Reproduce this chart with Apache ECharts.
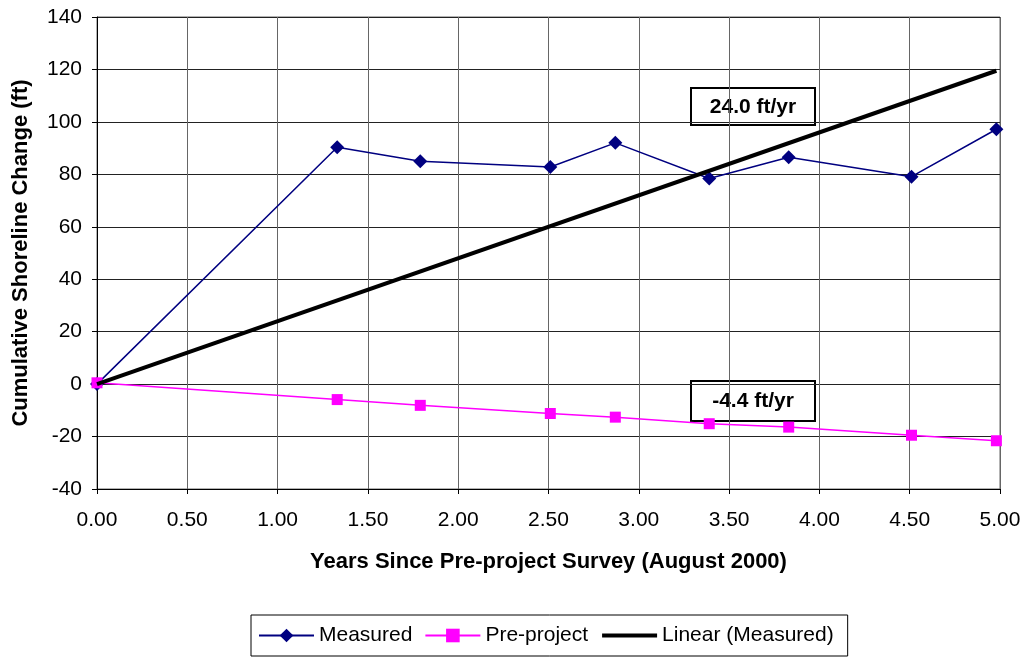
<!DOCTYPE html>
<html>
<head>
<meta charset="utf-8">
<script src="https://cdn.jsdelivr.net/npm/echarts@6/dist/echarts.min.js"></script>
<style>
html,body{margin:0;padding:0;background:#fff;}
#chart{width:1027px;height:658px;}
</style>
</head>
<body>
<div id="chart"></div>
<script>
// Data
var years = [0, 1.33, 1.79, 2.51, 2.87, 3.39, 3.83, 4.51, 4.98];
var measured = [0, 90.3, 85.0, 82.8, 92.0, 78.4, 86.5, 79.1, 97.2];
var preProject = [0.5, -5.9, -8.1, -11.2, -12.6, -15.1, -16.4, -19.5, -21.6];
var trendYears = [0, 4.98];
var trendValues = [0, 119.5];
var xTicks = [0, 0.5, 1, 1.5, 2, 2.5, 3, 3.5, 4, 4.5, 5];
var yTicks = [-40, -20, 0, 20, 40, 60, 80, 100, 120, 140];
var seriesNames = ['Measured', 'Pre-project', 'Linear (Measured)'];
var annotations = ['24.0 ft/yr', '-4.4 ft/yr'];

function pairs(xs, ys) { return xs.map(function (x, i) { return [x, ys[i]]; }); }

var FONT = 'Liberation Sans, Arial, sans-serif';
var chart = echarts.init(document.getElementById('chart'));
chart.setOption({
  animation: false,
  backgroundColor: '#fff',
  textStyle: { fontFamily: FONT, color: '#000' },
  grid: { left: 97, right: 27, top: 17, bottom: 169, show: true, borderColor: '#666', borderWidth: 1 },
  xAxis: {
    type: 'value', min: xTicks[0], max: xTicks[xTicks.length - 1], interval: 0.5,
    name: 'Years Since Pre-project Survey (August 2000)',
    nameLocation: 'middle', nameGap: 62,
    nameTextStyle: { fontFamily: FONT, fontSize: 22, fontWeight: 'bold', color: '#000' },
    axisLine: { onZero: false, lineStyle: { color: '#000', width: 1 } },
    axisTick: { show: true, inside: false, length: 5, lineStyle: { color: '#000' } },
    axisLabel: { fontFamily: FONT, fontSize: 21, color: '#000', margin: 21,
      formatter: function (v) { return v.toFixed(2); } },
    splitLine: { show: true, lineStyle: { color: '#666', width: 1 } }
  },
  yAxis: {
    type: 'value', min: yTicks[0], max: yTicks[yTicks.length - 1], interval: 20,
    name: 'Cumulative Shoreline Change (ft)',
    nameLocation: 'middle', nameGap: 65,
    nameTextStyle: { fontFamily: FONT, fontSize: 22, fontWeight: 'bold', color: '#000' },
    axisLine: { show: true, onZero: false, lineStyle: { color: '#000', width: 1 } },
    axisTick: { show: true, inside: false, length: 5, lineStyle: { color: '#000' } },
    axisLabel: { fontFamily: FONT, fontSize: 21, color: '#000', margin: 15 },
    splitLine: { show: true, lineStyle: { color: '#222', width: 1 } }
  },
  legend: {
    left: 251, top: 615,
    padding: [10, 14, 10, 7],
    borderColor: '#000', borderWidth: 1,
    itemWidth: 55, itemHeight: 17, itemGap: 12,
    textStyle: { fontFamily: FONT, fontSize: 21, color: '#000' },
    data: [
      { name: seriesNames[0] },
      { name: seriesNames[1], itemStyle: { borderWidth: 0 } },
      { name: seriesNames[2], itemStyle: { opacity: 0 }, lineStyle: { width: 4, color: '#000' } }
    ]
  },
  series: [
    {
      name: seriesNames[0], type: 'line', data: pairs(years, measured),
      symbol: 'diamond', symbolSize: 14, z: 3,
      lineStyle: { color: '#000080', width: 1.5 },
      itemStyle: { color: '#000080' }
    },
    {
      name: seriesNames[1], type: 'line', data: pairs(years, preProject),
      symbol: 'rect', symbolSize: 11, z: 4,
      lineStyle: { color: '#FF00FF', width: 1.5 },
      itemStyle: { color: '#FF00FF' }
    },
    {
      name: seriesNames[2], type: 'line', data: pairs(trendYears, trendValues),
      symbol: 'none', z: 5,
      lineStyle: { color: '#000', width: 4 },
      itemStyle: { color: '#000', opacity: 0 }
    }
  ],
  graphic: [
    {
      type: 'group', left: 690, top: 87, z: 100,
      children: [
        { type: 'rect', shape: { x: 0, y: 0, width: 124, height: 37 },
          style: { fill: '#fff', stroke: '#000', lineWidth: 2 } },
        { type: 'text', x: 62, y: 19,
          style: { text: annotations[0], fontFamily: FONT, fontSize: 21, fontWeight: 'bold',
            fill: '#000', align: 'center', verticalAlign: 'middle' } }
      ]
    },
    {
      type: 'group', left: 690, top: 380, z: 100,
      children: [
        { type: 'rect', shape: { x: 0, y: 0, width: 124, height: 40 },
          style: { fill: '#fff', stroke: '#000', lineWidth: 2 } },
        { type: 'text', x: 62, y: 20,
          style: { text: annotations[1], fontFamily: FONT, fontSize: 21, fontWeight: 'bold',
            fill: '#000', align: 'center', verticalAlign: 'middle' } }
      ]
    }
  ]
});
</script>
</body>
</html>
